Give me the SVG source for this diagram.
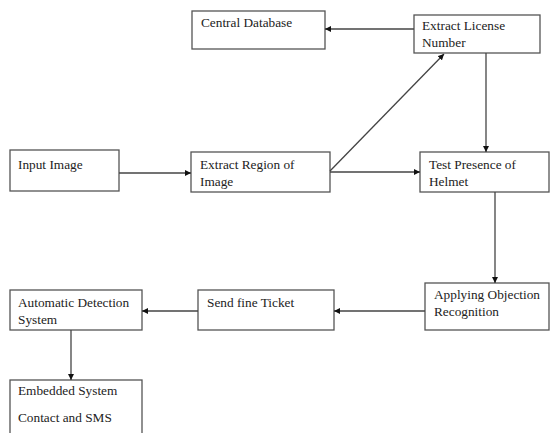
<svg xmlns="http://www.w3.org/2000/svg" width="550" height="433" viewBox="0 0 550 433">
<style>
.box{fill:#fff;stroke:#555;stroke-width:1.3}
.t{font-family:"Liberation Serif","Times New Roman",serif;font-size:13.3px;fill:#222}
.c{stroke:#444;stroke-width:1.3;fill:none;marker-end:url(#ah)}
</style>
<defs>
<marker id="ah" viewBox="0 0 10 10" refX="10" refY="5" markerWidth="6" markerHeight="6" markerUnits="userSpaceOnUse" orient="auto">
<path d="M0,0 L10,5 L0,10 z" fill="#111"/>
</marker>
</defs>
<rect width="550" height="433" fill="#fff"/>
<g id="central-db"><rect class="box" x="192" y="11" width="133" height="38"/><text class="t" x="201" y="27">Central Database</text></g>
<g id="extract-license"><rect class="box" x="414" y="15" width="126" height="38"/><text class="t" x="422" y="29.5">Extract License</text><text class="t" x="422" y="46.5">Number</text></g>
<g id="input-image"><rect class="box" x="10" y="150" width="109" height="41"/><text class="t" x="18" y="168.5">Input Image</text></g>
<g id="extract-region"><rect class="box" x="191" y="152" width="139" height="40"/><text class="t" x="200" y="168.5">Extract Region of</text><text class="t" x="200" y="185.5">Image</text></g>
<g id="test-helmet"><rect class="box" x="420" y="152" width="129" height="40"/><text class="t" x="429" y="168.5">Test Presence of</text><text class="t" x="429" y="185.5">Helmet</text></g>
<g id="auto-detect"><rect class="box" x="10" y="290" width="132" height="40"/><text class="t" x="18" y="307">Automatic Detection</text><text class="t" x="18" y="323.5">System</text></g>
<g id="send-ticket"><rect class="box" x="198" y="290" width="136" height="40"/><text class="t" x="207" y="307">Send fine Ticket</text></g>
<g id="applying"><rect class="box" x="425" y="283" width="124" height="47"/><text class="t" x="434" y="299">Applying Objection</text><text class="t" x="434" y="315.5">Recognition</text></g>
<g id="embedded"><rect class="box" x="10" y="380" width="132" height="60"/><text class="t" x="18" y="395">Embedded System</text><text class="t" x="18" y="422">Contact and SMS</text></g>
<g id="connectors">
<line class="c" x1="414" y1="29" x2="325" y2="29"/>
<line class="c" x1="119" y1="173" x2="191" y2="173"/>
<line class="c" x1="330" y1="172" x2="420" y2="172"/>
<line class="c" x1="330" y1="171" x2="444" y2="54"/>
<line class="c" x1="486" y1="53" x2="486" y2="152"/>
<line class="c" x1="495" y1="192" x2="495" y2="283"/>
<line class="c" x1="425" y1="311" x2="334" y2="311"/>
<line class="c" x1="198" y1="311" x2="142" y2="311"/>
<line class="c" x1="71" y1="330" x2="71" y2="380"/>
</g>
</svg>
